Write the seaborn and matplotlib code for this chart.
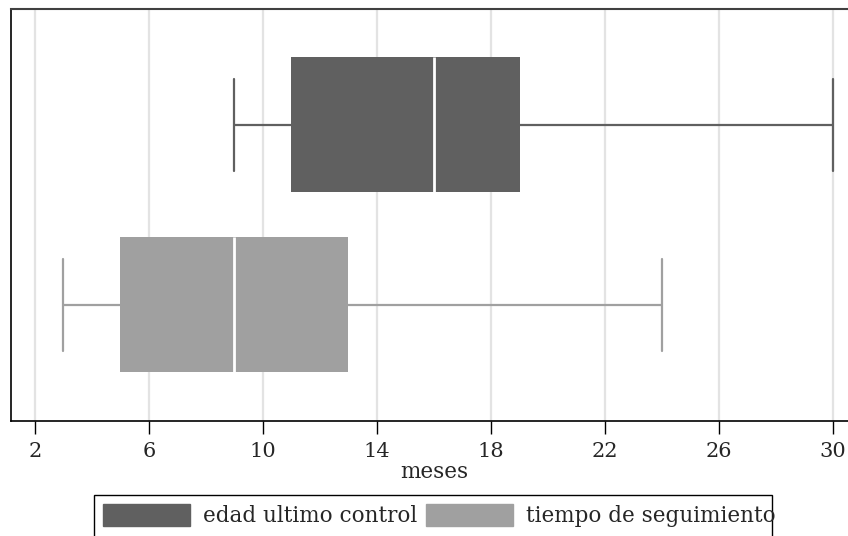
import numpy as np
import pandas as pd
import matplotlib
matplotlib.use("Agg")
import matplotlib.pyplot as plt
from matplotlib.patches import Patch, Rectangle
import seaborn as sns

# five-number summaries (min, Q1, median, Q3, max)
series = ["edad ultimo control", "tiempo de seguimiento"]
edad_vals = [9, 11, 16, 19, 30]
seguimiento_vals = [3, 5, 9, 13, 24]
colors = ["#606060", "#a0a0a0"]
xticks = [2, 6, 10, 14, 18, 22, 26, 30]

df = pd.DataFrame({
    "serie": [series[0]] * len(edad_vals) + [series[1]] * len(seguimiento_vals),
    "meses": edad_vals + seguimiento_vals,
})

sns.set_style("white")
plt.rcParams["font.family"] = ["DejaVu Serif"]

W, H = 848, 536
fig = plt.figure(figsize=(W / 100, H / 100), dpi=100)
ax = fig.add_axes([11 / W, (H - 421) / H, 846 / W, 412 / H])

sns.boxplot(
    data=df, x="meses", y="serie", hue="serie", palette=colors,
    whis=np.inf, width=0.75, ax=ax, legend=False, linewidth=1.5,
    capwidths=0.51,
    medianprops=dict(color="white", linewidth=2),
)
# boxes without outline, whiskers and caps in the box colour
for cont, c in zip(ax.containers, colors):
    for b in cont.boxes:
        b.set_edgecolor(c)
        b.set_linewidth(0)
    for ln in list(cont.whiskers) + list(cont.caps):
        ln.set_color(c)
        ln.set_linewidth(1.6)

ax.set_xlim(1.16, 30.84)
ax.set_ylim(1.645, -0.644)
ax.set_xticks(xticks)
ax.set_xticklabels([str(t) for t in xticks], fontsize=15)
ax.set_yticks([])
ax.set_ylabel("")
ax.set_xlabel("meses", fontsize=15.5, labelpad=0)
ax.tick_params(axis="x", direction="out", length=9, width=1, color="black",
               bottom=True, pad=6)
ax.grid(axis="x", color="#e3e3e3", linewidth=1.6)
ax.set_axisbelow(True)
for s in ["left", "bottom"]:
    ax.spines[s].set_color("black")
    ax.spines[s].set_linewidth(1.2)
ax.spines["top"].set_color("#404040")
ax.spines["top"].set_linewidth(1.5)
ax.spines["right"].set_visible(False)

# legend: text runs past the frame like in the original
fs = 15.5
fpx = fs * 100 / 72
handles = [Patch(facecolor=c, edgecolor=c, label=l) for c, l in zip(colors, series)]
leg = fig.legend(
    handles=handles, loc="upper left", ncol=2,
    bbox_to_anchor=(94 / W, 1 - 495 / H), fontsize=fs, frameon=False,
    handlelength=87 / fpx, handleheight=26 / fpx, handletextpad=13 / fpx,
    columnspacing=9 / fpx, borderpad=9 / fpx, borderaxespad=0,
)
fig.patches.append(Rectangle((94 / W, 1 - 541 / H), (772 - 94) / W, 46 / H,
                             transform=fig.transFigure, fill=False,
                             edgecolor="black", linewidth=1))

fig.savefig("out.png", dpi=100)
